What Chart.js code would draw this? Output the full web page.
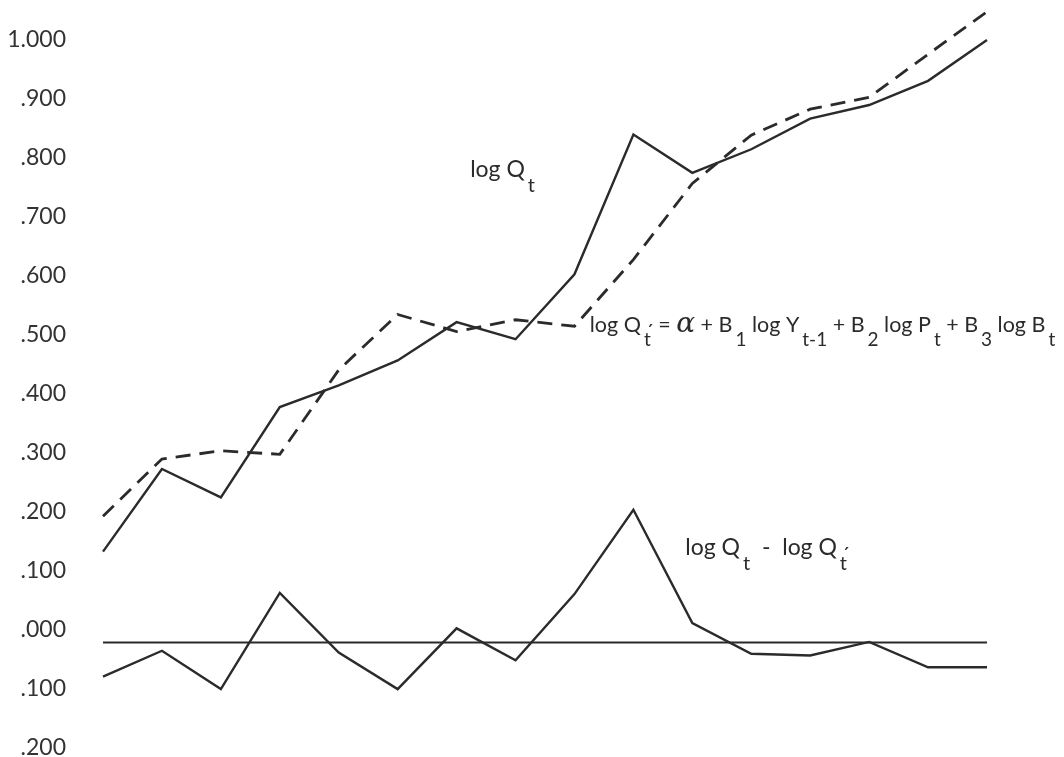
<!DOCTYPE html>
<html>
<head>
<meta charset="utf-8">
<script src="https://cdn.jsdelivr.net/npm/chart.js@4.4.0/dist/chart.umd.min.js"></script>
<style>
  html, body { margin: 0; padding: 0; background: #fff; overflow: hidden; }
  #wrap { width: 1064px; height: 757px; overflow: hidden; }
</style>
</head>
<body>
<div id="wrap"><canvas id="chart" width="1064" height="764"></canvas></div>
<script>
// periods t = 1..16
const periods = ['1', '2', '3', '4', '5', '6', '7', '8', '9', '10', '11', '12', '13', '14', '15', '16'];

// log Q(t), observed
const logQ = [0.154, 0.294, 0.246, 0.399, 0.436, 0.478, 0.543, 0.514, 0.624, 0.861, 0.796, 0.836, 0.888, 0.911, 0.952, 1.021];
// log Q'(t), fitted
const logQfit = [0.214, 0.311, 0.325, 0.319, 0.462, 0.556, 0.527, 0.547, 0.536, 0.649, 0.778, 0.860, 0.904, 0.924, 0.997, 1.069];
// log Q(t) - log Q'(t)
const residual = [-0.058, -0.014, -0.079, 0.084, -0.017, -0.079, 0.024, -0.030, 0.082, 0.225, 0.033, -0.019, -0.022, 0.001, -0.042, -0.042];
const zeroLine = [0, 0, 0, 0, 0, 0, 0, 0, 0, 0, 0, 0, 0, 0, 0, 0];

const tickValues = [1.0, 0.9, 0.8, 0.7, 0.6, 0.5, 0.4, 0.3, 0.2, 0.1, 0, -0.1, -0.2];
const tickLabels = ['1.000', '.900', '.800', '.700', '.600', '.500', '.400', '.300', '.200', '.100', '.000', '.100', '.200'];

const ink = '#2b2b2b';
const sans = 'Lato, "Noto Sans", sans-serif';

// text notes placed in data coordinates: [period index, value]
const notes = [
  { at: [6.23, 0.789], size: 23, runs: [['main', 'log Q'], ['sub', 't']] },
  { at: [8.26, 0.526], size: 21.5, runs: [
    ['main', 'log Q'], ['primeSub', 't'], ['main', ' = '], ['alpha', 'α'], ['main', ' + B'], ['sub', '1'],
    ['main', ' log Y'], ['sub', 't-1'], ['main', ' + B'], ['sub', '2'], ['main', ' log P'], ['sub', 't'],
    ['main', ' + B'], ['sub', '3'], ['main', ' log B'], ['sub', 't']
  ] },
  { at: [9.88, 0.148], size: 23, runs: [['main', 'log Q'], ['sub', 't'], ['main', '  -  log Q'], ['primeSub', 't']] }
];

const annotationText = {
  id: 'annotationText',
  afterDatasetsDraw(chart) {
    const { ctx, scales: { x, y } } = chart;
    ctx.save();
    ctx.fillStyle = ink;
    ctx.textBaseline = 'alphabetic';
    ctx.textAlign = 'left';
    notes.forEach((note) => {
      let px = x.getPixelForValue(note.at[0]);
      const py = y.getPixelForValue(note.at[1]);
      const main = note.size + 'px ' + sans;
      const sub = Math.round(note.size * 0.87) + 'px ' + sans;
      const drop = Math.round(note.size * 0.64);
      note.runs.forEach(([kind, text]) => {
        if (kind === 'main') {
          ctx.font = main;
          ctx.fillText(text, px, py);
          px += ctx.measureText(text).width;
        } else if (kind === 'alpha') {
          ctx.font = 'italic ' + Math.round(note.size * 1.3) + 'px "DejaVu Serif", serif';
          ctx.fillText(text, px, py);
          px += ctx.measureText(text).width;
        } else if (kind === 'sub') {
          ctx.font = sub;
          px += 3;
          ctx.fillText(text, px, py + drop);
          px += ctx.measureText(text).width;
        } else if (kind === 'primeSub') {
          ctx.font = sub;
          px += 3;
          ctx.fillText('\u00b4', px + 2, py + 6);
          ctx.fillText(text, px, py + drop);
          px += ctx.measureText(text).width + 2;
        }
      });
    });
    ctx.restore();
  }
};

const lineStyle = { borderColor: ink, pointRadius: 0, tension: 0, fill: false };

new Chart(document.getElementById('chart'), {
  type: 'line',
  data: {
    labels: periods,
    datasets: [
      { ...lineStyle, label: 'log Q', data: logQ, borderWidth: 2.4 },
      { ...lineStyle, label: "log Q'", data: logQfit, borderWidth: 2.8, borderDash: [15, 9] },
      { ...lineStyle, label: "log Q - log Q'", data: residual, borderWidth: 2.4 },
      { ...lineStyle, label: 'zero', data: zeroLine, borderWidth: 2.2 }
    ]
  },
  options: {
    responsive: false,
    animation: false,
    devicePixelRatio: 1,
    layout: { padding: { left: 0, right: 77, top: 2.35, bottom: 3.5 } },
    plugins: {
      legend: { display: false },
      tooltip: { enabled: false }
    },
    scales: {
      x: { display: false, offset: false },
      y: {
        min: -0.2,
        max: 1.085,
        grid: { display: false, drawTicks: false },
        border: { display: false },
        afterBuildTicks: (scale) => {
          scale.ticks = tickValues.map((v) => ({ value: v }));
        },
        afterFit: (scale) => {
          scale.width = 103;
          scale.paddingTop = 0;
          scale.paddingBottom = 0;
        },
        ticks: {
          padding: 37,
          labelOffset: -12.5,
          color: '#333',
          font: { family: sans, size: 23 },
          callback: (value, index) => tickLabels[index]
        }
      }
    }
  },
  plugins: [annotationText]
});
</script>
</body>
</html>
